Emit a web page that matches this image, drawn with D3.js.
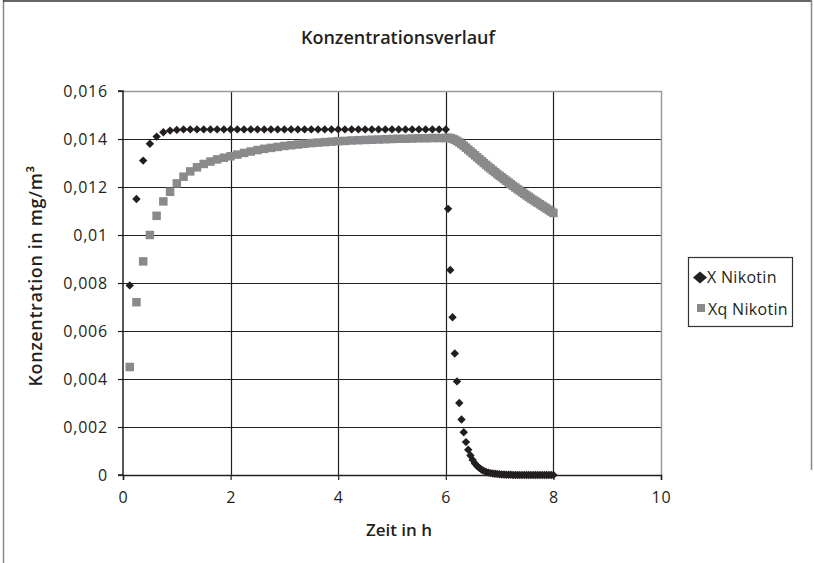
<!DOCTYPE html>
<html>
<head>
<meta charset="utf-8">
<script src="https://cdn.jsdelivr.net/npm/d3@7"></script>
<style>
  body { margin: 0; background: #fff; }
  svg text { font-family: "Open Sans", "DejaVu Sans", sans-serif; fill: #231f20; }
</style>
</head>
<body>
<svg id="chart" width="814" height="563"></svg>
<script>
// Zeit in h
var zeit = [
  0.125, 0.25, 0.375, 0.5, 0.625, 0.75, 0.875, 1, 1.125, 1.25, 1.375, 1.5,
  1.625, 1.75, 1.875, 2, 2.125, 2.25, 2.375, 2.5, 2.625, 2.75, 2.875, 3,
  3.125, 3.25, 3.375, 3.5, 3.625, 3.75, 3.875, 4, 4.125, 4.25, 4.375, 4.5,
  4.625, 4.75, 4.875, 5, 5.125, 5.25, 5.375, 5.5, 5.625, 5.75, 5.875, 6,
  6.042, 6.083, 6.125, 6.167, 6.208, 6.25, 6.292, 6.333, 6.375, 6.417, 6.458, 6.5,
  6.542, 6.583, 6.625, 6.667, 6.708, 6.75, 6.792, 6.833, 6.875, 6.917, 6.958, 7,
  7.042, 7.083, 7.125, 7.167, 7.208, 7.25, 7.292, 7.333, 7.375, 7.417, 7.458, 7.5,
  7.542, 7.583, 7.625, 7.667, 7.708, 7.75, 7.792, 7.833, 7.875, 7.917, 7.958, 8
];

// X Nikotin (mg/m3)
var xNikotin = [
  0.0079, 0.0115, 0.0131, 0.0138, 0.0141, 0.01428, 0.01435, 0.01438, 0.0144, 0.0144, 0.0144, 0.0144,
  0.0144, 0.0144, 0.0144, 0.0144, 0.0144, 0.0144, 0.0144, 0.0144, 0.0144, 0.0144, 0.0144, 0.0144,
  0.0144, 0.0144, 0.0144, 0.0144, 0.0144, 0.0144, 0.0144, 0.0144, 0.0144, 0.0144, 0.0144, 0.0144,
  0.0144, 0.0144, 0.0144, 0.0144, 0.0144, 0.0144, 0.0144, 0.0144, 0.0144, 0.0144, 0.0144, 0.0144,
  0.01109, 0.00854, 0.00657, 0.00506, 0.0039, 0.003, 0.00231, 0.00178, 0.00137, 0.00105, 0.00081, 0.00063,
  0.00048, 0.00037, 0.00029, 0.00022, 0.00017, 0.00013, 0.0001, 0.00008, 0.00006, 0.00005, 0.00004, 0.00003,
  0.00002, 0.00002, 0.00001, 0.00001, 0.00001, 0, 0, 0, 0, 0, 0, 0,
  0, 0, 0, 0, 0, 0, 0, 0, 0, 0, 0, 0
];

// Xq Nikotin (mg/m3)
var xqNikotin = [
  0.0045, 0.0072, 0.0089, 0.01, 0.0108, 0.0114, 0.0118, 0.01215, 0.01243, 0.01265, 0.01282, 0.01296,
  0.01306, 0.01315, 0.01322, 0.01328, 0.01335, 0.01342, 0.01348, 0.01354, 0.01359, 0.01363, 0.01367, 0.01371,
  0.01374, 0.01377, 0.0138, 0.01383, 0.01385, 0.01387, 0.01389, 0.01391, 0.01392, 0.01394, 0.01395, 0.01396,
  0.01397, 0.01398, 0.01399, 0.014, 0.01401, 0.01401, 0.01402, 0.01403, 0.01403, 0.01404, 0.01404, 0.01404,
  0.01405, 0.01404, 0.01401, 0.01397, 0.01392, 0.01386, 0.01379, 0.01372, 0.01364, 0.01356, 0.01348, 0.0134,
  0.01332, 0.01324, 0.01316, 0.01308, 0.013, 0.01292, 0.01284, 0.01277, 0.01269, 0.01262, 0.01254, 0.01247,
  0.0124, 0.01233, 0.01226, 0.01219, 0.01212, 0.01205, 0.01198, 0.01191, 0.01185, 0.01178, 0.01172, 0.01165,
  0.01159, 0.01152, 0.01146, 0.0114, 0.01134, 0.01128, 0.01122, 0.01116, 0.0111, 0.01104, 0.01098, 0.01092
];

var xTicks = [0, 2, 4, 6, 8, 10];
var yTicks = [0, 0.002, 0.004, 0.006, 0.008, 0.01, 0.012, 0.014, 0.016];
var yTickLabels = ["0", "0,002", "0,004", "0,006", "0,008", "0,01", "0,012", "0,014", "0,016"];
var seriesNames = ["X Nikotin", "Xq Nikotin"];

var svg = d3.select("#chart");
var ink = "#231f20", grey = "#8a8a8c";

var x = d3.scaleLinear().domain([0, 10]).range([123, 661]);
var y = d3.scaleLinear().domain([0, 0.016]).range([475, 91]);

// outer frame
svg.append("line").attr("x1", 3.5).attr("x2", 3.5).attr("y1", 0).attr("y2", 563).attr("stroke", "#888").attr("stroke-width", 1.5);
svg.append("line").attr("x1", 3).attr("x2", 812).attr("y1", 1).attr("y2", 1).attr("stroke", "#333").attr("stroke-width", 1.5);
svg.append("line").attr("x1", 811.5).attr("x2", 811.5).attr("y1", 0).attr("y2", 470).attr("stroke", "#888").attr("stroke-width", 1.5);

// grid
var grid = svg.append("g");
grid.selectAll("line.h").data(yTicks.slice(1, -1)).enter().append("line")
  .attr("x1", x(0)).attr("x2", x(10))
  .attr("y1", function(d) { return Math.round(y(d)) + 0.5; })
  .attr("y2", function(d) { return Math.round(y(d)) + 0.5; })
  .attr("stroke", ink).attr("stroke-width", 1.2);
grid.selectAll("line.v").data(xTicks.slice(1, -1)).enter().append("line")
  .attr("y1", y(0.016)).attr("y2", y(0))
  .attr("x1", function(d) { return Math.round(x(d)) + 0.5; })
  .attr("x2", function(d) { return Math.round(x(d)) + 0.5; })
  .attr("stroke", ink).attr("stroke-width", 1.2);
// top/right border of plot area
svg.append("path")
  .attr("d", "M" + x(0) + "," + (y(0.016) + 0.5) + "H" + (x(10) + 0.5) + "V" + y(0))
  .attr("fill", "none").attr("stroke", "#9a9a9a").attr("stroke-width", 1.5);

// axes
var xAxis = d3.axisBottom(x).tickValues(xTicks).tickSize(5).tickPadding(12);
var yAxis = d3.axisLeft(y).tickValues(yTicks).tickSize(5).tickPadding(10)
  .tickFormat(function(d, i) { return yTickLabels[i]; });

var gx = svg.append("g").attr("transform", "translate(0," + y(0) + ")").call(xAxis);
var gy = svg.append("g").attr("transform", "translate(" + x(0) + ",0)").call(yAxis);
[gx, gy].forEach(function(g) {
  g.select(".domain").attr("stroke", ink).attr("stroke-width", 1.5);
  g.selectAll(".tick line").attr("stroke", ink).attr("stroke-width", 1.2);
  g.selectAll(".tick text").attr("font-size", 16).attr("fill", ink)
    .style("font-family", "'Open Sans', sans-serif")
    .style("letter-spacing", "0.8px");
});
gy.select(".domain").attr("d", "M-5," + y(0.016) + "H0V" + y(0) + "H-5");

// series
var pts = zeit.map(function(t, i) { return { t: t, x: xNikotin[i], xq: xqNikotin[i] }; });

svg.append("g").selectAll("rect").data(pts).enter().append("rect")
  .attr("x", function(d) { return x(d.t) - 4.25; })
  .attr("y", function(d) { return y(d.xq) - 4.25; })
  .attr("width", 8.5).attr("height", 8.5)
  .attr("fill", grey);

var diamond = "M0,-4.2L4.2,0L0,4.2L-4.2,0Z";
svg.append("g").selectAll("path").data(pts).enter().append("path")
  .attr("d", diamond)
  .attr("transform", function(d) { return "translate(" + x(d.t) + "," + y(d.x) + ")"; })
  .attr("fill", ink);

// titles
svg.append("text").attr("x", 398).attr("y", 44).attr("text-anchor", "middle")
  .attr("font-size", 18).attr("font-weight", 600).text("Konzentrationsverlauf");
svg.append("text").attr("x", 399).attr("y", 536).attr("text-anchor", "middle")
  .attr("font-size", 17).attr("font-weight", 600).text("Zeit in h");
svg.append("text").attr("transform", "translate(42,276) rotate(-90)").attr("text-anchor", "middle")
  .attr("font-size", 18).attr("font-weight", 600).style("letter-spacing", "0.6px")
  .text("Konzentration in mg/m³");

// legend
var lg = svg.append("g");
lg.append("rect").attr("x", 688.5).attr("y", 257.5).attr("width", 104).attr("height", 69)
  .attr("fill", "#fff").attr("stroke", "#333").attr("stroke-width", 1.2);
lg.append("path").attr("d", "M0,-6L7,0L0,6L-7,0Z").attr("transform", "translate(700,277.5)").attr("fill", ink);
lg.append("rect").attr("x", 697).attr("y", 304).attr("width", 8).attr("height", 8).attr("fill", grey);
lg.selectAll("text").data(seriesNames).enter().append("text")
  .attr("x", function(d, i) { return i === 0 ? 707 : 708; })
  .attr("y", function(d, i) { return i === 0 ? 283 : 315; })
  .attr("font-size", 16).style("letter-spacing", "0.3px")
  .text(function(d) { return d; });
</script>
</body>
</html>
